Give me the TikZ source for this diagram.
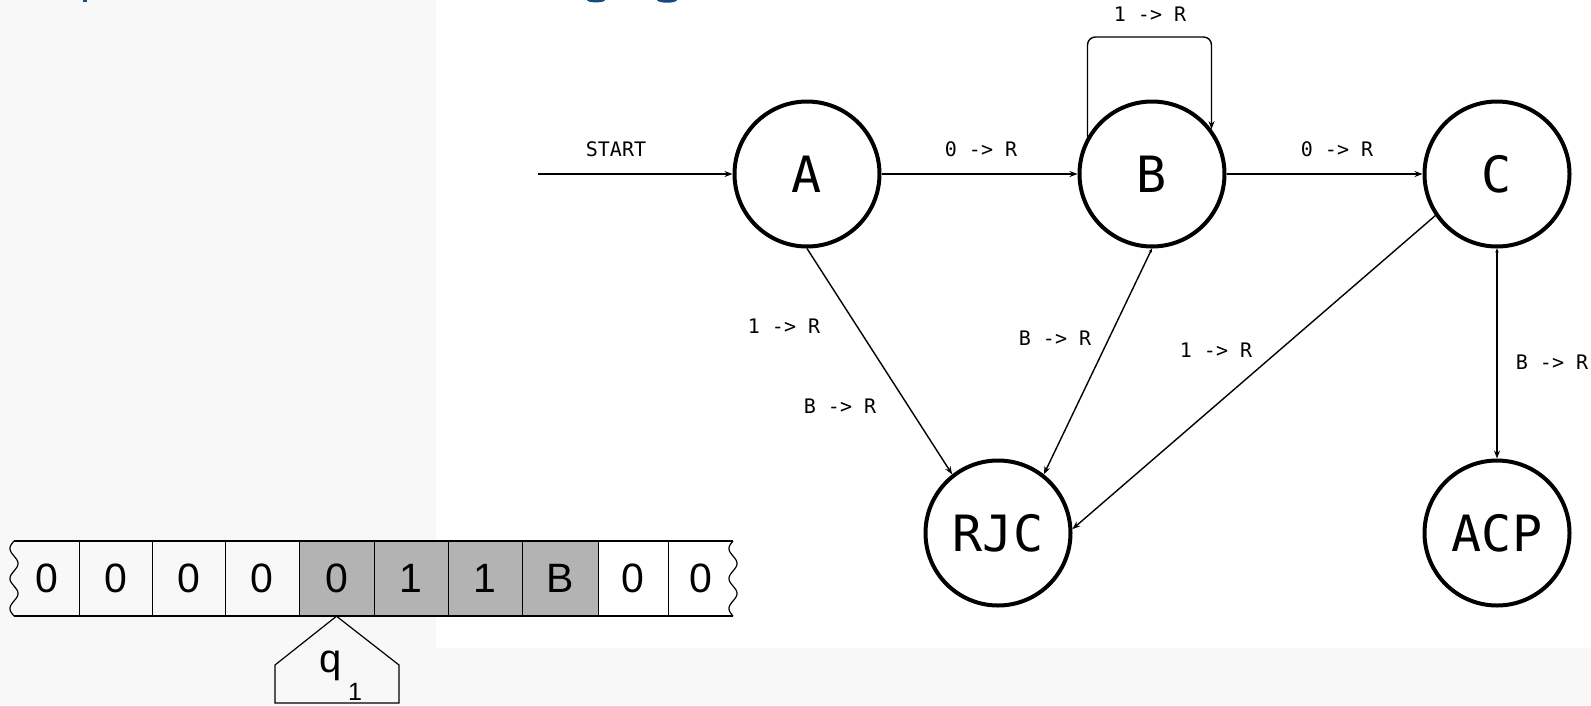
\documentclass[tikz,border=0pt]{standalone}
\usepackage{fontspec}
\setmainfont{Liberation Sans}
\newfontfamily\monofont{DejaVu Sans Mono}
\usetikzlibrary{arrows.meta}
\definecolor{tapegrey}{RGB}{179,179,179}
\definecolor{headblue}{RGB}{24,72,128}
\definecolor{panelgrey}{RGB}{248,248,248}

\begin{document}
\begin{tikzpicture}[x=1pt,y=-1pt,
  state/.style={circle, draw, line width=4pt, minimum size=145pt, inner sep=0pt,
    font=\monofont\fontsize{50}{50}\selectfont},
  edge/.style={line width=1.4pt, -{Stealth[length=8pt,width=6pt]}},
  edgeboth/.style={line width=1.4pt, {Stealth[length=4pt,width=3.5pt]}-{Stealth[length=8pt,width=6pt]}},
  lbl/.style={font=\monofont\fontsize{20}{24}\selectfont, inner sep=0pt},
  cell/.style={minimum height=75pt, inner sep=0pt, font=\fontsize{41}{41}\selectfont},
  tapeline/.style={line width=1.2pt}
]
% page area and light panels
\useasboundingbox[fill=white] (0,0) rectangle (1591,705);
\fill[panelgrey] (0,0) rectangle (436,705);
\fill[panelgrey] (436,648) rectangle (1591,705);

% lowest tips of the heading line above the page edge
\fill[headblue] (83,0) rectangle (86.5,2.2);
\fill[headblue] (596,0) ellipse [x radius=9, y radius=2.4];
\fill[headblue] (667,0) ellipse [x radius=10, y radius=2.7];

% states
\node[state] (A) at (807,174) {A};
\node[state] (B) at (1152,174) {B};
\node[state] (C) at (1497,174) {C};
\node[state] (RJC) at (998,533) {RJC};
\node[state] (ACP) at (1497,533) {ACP};

\coordinate (start) at (538,174);
\coordinate (looptop) at (1150,37);

% transitions
\draw[edge] (start) -- (A);
\draw[edge] (A) -- (B);
\draw[edge] (B) -- (C);
\draw[edge, rounded corners=8pt] (B.150) |- (looptop) -| (B.37);
\draw[edge] (A.south) -- (RJC.128);
\draw[edgeboth] (B.south) -- (RJC.52);
\draw[edge] (C.214) -- (RJC.3);
\draw[edgeboth] (C.south) -- (ACP.north);

% transition labels
\node[lbl] (lstart) at (616,149) {START};
\node[lbl] (lab) at (981,149) {0 -> R};
\node[lbl] (lbc) at (1337,149) {0 -> R};
\node[lbl] (lloop) at (1150,14) {1 -> R};
\node[lbl] (lar1) at (784,326) {1 -> R};
\node[lbl] (lar2) at (840,406) {B -> R};
\node[lbl] (lbr) at (1055,338) {B -> R};
\node[lbl] (lcr) at (1216,350) {1 -> R};
\node[lbl] (lca) at (1552,362) {B -> R};

% tape cells
\node[cell, minimum width=64pt] (c1) at (47,578.5) {0};
\node[cell, minimum width=73pt] (c2) at (115.5,578.5) {0};
\node[cell, minimum width=73pt] (c3) at (188.5,578.5) {0};
\node[cell, minimum width=74pt] (c4) at (262,578.5) {0};
\node[cell, minimum width=75pt, fill=tapegrey] (c5) at (336.5,578.5) {0};
\node[cell, minimum width=74pt, fill=tapegrey] (c6) at (411,578.5) {1};
\node[cell, minimum width=74pt, fill=tapegrey] (c7) at (485,578.5) {1};
\node[cell, minimum width=76pt, fill=tapegrey] (c8) at (560,578.5) {B};
\node[cell, minimum width=70pt] (c9) at (633,578.5) {0};
\node[cell, minimum width=65pt] (c10) at (700.5,578.5) {0};

% tape borders
\draw[tapeline] (14,541) -- (733,541);
\draw[tapeline] (14,616) -- (733,616);
\foreach \i in {1,...,9} {
  \draw[tapeline] (c\i.north east) -- (c\i.south east);
}
\draw[tapeline] plot[domain=0:75, samples=80, smooth] ({14-4*sin(12*\x)}, {541+\x});
\draw[tapeline] plot[domain=0:75, samples=80, smooth] ({733-4*sin(12*\x)}, {541+\x});

% read head
\draw[tapeline, line join=miter] (c5.south) -- (399,665) -- (399,703) -- (275,703) -- (275,665) -- cycle;
\node[anchor=base, inner sep=0pt, font=\fontsize{40}{40}\selectfont] (hq) at (331,672) {q};
\node[anchor=base, inner sep=0pt, font=\fontsize{25}{25}\selectfont] (hsub) at (355,700) {1};
\end{tikzpicture}
\end{document}
